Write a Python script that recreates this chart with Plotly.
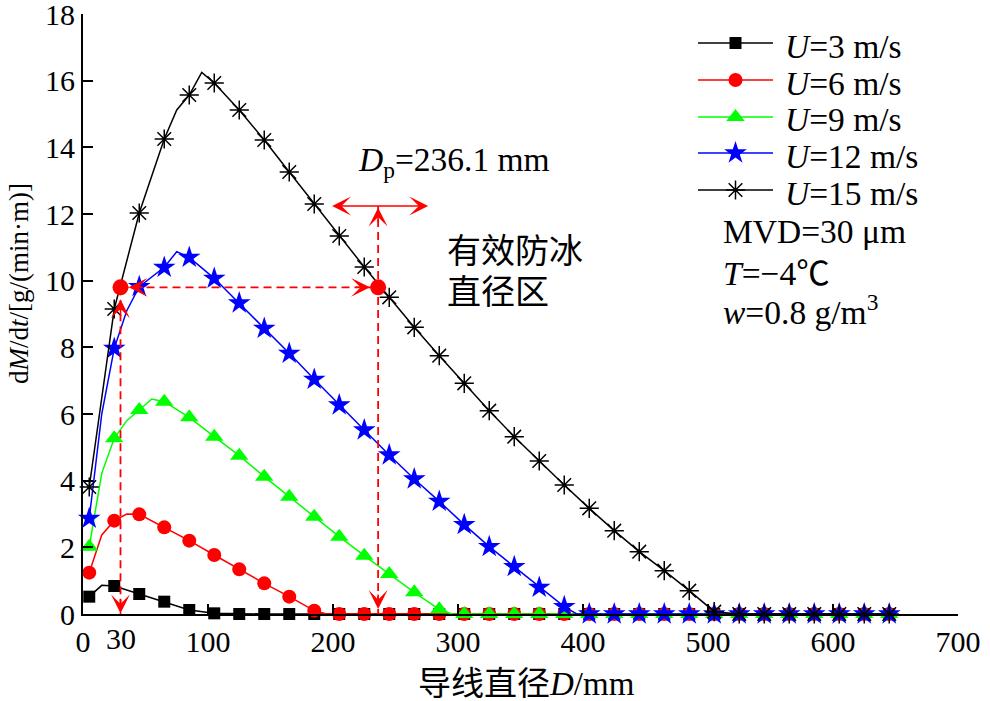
import plotly.graph_objects as go

# ---------------- data ----------------
x_marks = [5, 25, 45, 65, 85, 105, 125, 145, 165, 185, 205, 225, 245, 265, 285, 305, 325,
           345, 365, 385, 405, 425, 445, 465, 485, 505, 525, 545, 565, 585, 605, 625, 645]

u3 = [0.52, 0.84, 0.60, 0.37, 0.12, 0.02, 0, 0, 0, 0, 0, 0, 0, 0, 0, 0, 0,
      0, 0, 0, 0, 0, 0, 0, 0, 0, 0, 0, 0, 0, 0, 0, 0]
u6 = [1.24, 2.80, 2.99, 2.60, 2.20, 1.77, 1.34, 0.92, 0.52, 0.10, 0, 0, 0, 0, 0, 0, 0,
      0, 0, 0, 0, 0, 0, 0, 0, 0, 0, 0, 0, 0, 0, 0, 0]
u9 = [2.02, 5.27, 6.12, 6.37, 5.90, 5.32, 4.75, 4.12, 3.52, 2.92, 2.32, 1.75, 1.20, 0.65, 0.14, 0, 0,
      0, 0, 0, 0, 0, 0, 0, 0, 0, 0, 0, 0, 0, 0, 0, 0]
u12 = [2.87, 7.97, 9.82, 10.40, 10.70, 10.07, 9.33, 8.57, 7.82, 7.04, 6.27, 5.52, 4.77, 4.05, 3.38, 2.68, 2.02,
       1.42, 0.80, 0.22, 0, 0, 0, 0, 0, 0, 0, 0, 0, 0, 0, 0, 0]
u15 = [3.81, 9.15, 12.03, 14.25, 15.57, 15.93, 15.12, 14.22, 13.26, 12.30, 11.34, 10.41, 9.50, 8.60, 7.75, 6.92, 6.10,
       5.32, 4.59, 3.87, 3.17, 2.50, 1.87, 1.30, 0.70, 0.07, 0, 0, 0, 0, 0, 0, 0]

# extra line vertices (between markers)
u3_kx, u3_ky = [15], [0.86]
u6_kx, u6_ky = [15, 35, 195], [2.37, 3.00, 0.0]
u9_kx, u9_ky = [15, 35, 55, 295], [4.22, 5.80, 6.45, 0.0]
u12_kx, u12_ky = [15, 35, 75, 395], [6.0, 9.1, 10.87, 0.0]
u15_kx, u15_ky = [75, 95], [15.12, 16.25]

series_names = ["<i>U</i>=3 m/s", "<i>U</i>=6 m/s", "<i>U</i>=9 m/s", "<i>U</i>=12 m/s", "<i>U</i>=15 m/s"]

dp_value = 236.1        # effective diameter Dp
d_min = 30              # lower diameter
level = 9.8             # dM/dt level used for the construction
dp_arrow_y = 12.24
dp_arrow_half = 38

x_ticks = [0, 100, 200, 300, 400, 500, 600, 700]
y_ticks = [0, 2, 4, 6, 8, 10, 12, 14, 16, 18]

# ---------------- styles ----------------
FONT = "'Liberation Serif', 'Times New Roman', 'Noto Sans CJK SC', serif"
RED, GREEN, BLUE, BLACK = "#FF0000", "#00FF00", "#0000FF", "#000000"
styles = [
    dict(color=BLACK, symbol="square", size=12, lw=0),
    dict(color=RED, symbol="circle", size=14, lw=0),
    dict(color=GREEN, symbol="triangle-up", size=16, lw=0),
    dict(color=BLUE, symbol="star", size=17, lw=0),
    dict(color=BLACK, symbol="asterisk-open", size=16, lw=1.5),
]
all_y = [u3, u6, u9, u12, u15]
all_k = [(u3_kx, u3_ky), (u6_kx, u6_ky), (u9_kx, u9_ky), (u12_kx, u12_ky), (u15_kx, u15_ky)]

# plot area in pixels (for placing layout text)
L, R, T, B = 83, 958, 14, 614


def px(xp):
    return (xp - L) / (R - L)


def py(yp):
    return (B - yp) / (B - T)


fig = go.Figure()


def marker_dict(st):
    if st["symbol"] == "asterisk-open":
        return dict(symbol=st["symbol"], size=st["size"], color=st["color"],
                    line=dict(color=st["color"], width=st["lw"]))
    return dict(symbol=st["symbol"], size=st["size"], color=st["color"], line=dict(width=0))


for ys, (kx, ky), st in zip(all_y, all_k, styles):
    pts = sorted(zip(x_marks + kx, ys + ky))
    fig.add_trace(go.Scatter(x=[p[0] for p in pts], y=[p[1] for p in pts], mode="lines",
                             line=dict(color=st["color"], width=1.5), showlegend=False,
                             hoverinfo="skip", cliponaxis=False))
    fig.add_trace(go.Scatter(x=x_marks, y=ys, mode="markers", marker=marker_dict(st),
                             showlegend=False, cliponaxis=False))

# ---------------- construction (red dashed) ----------------
DASH = "8px,5px"
fig.add_shape(type="line", x0=d_min, x1=dp_value, y0=level, y1=level, xref="x", yref="y",
              line=dict(color=RED, width=1.8, dash=DASH))
fig.add_shape(type="line", x0=d_min, x1=d_min, y0=level, y1=0, xref="x", yref="y",
              line=dict(color=RED, width=1.8, dash=DASH))
fig.add_shape(type="line", x0=dp_value, x1=dp_value, y0=dp_arrow_y, y1=0, xref="x", yref="y",
              line=dict(color=RED, width=1.8, dash=DASH))

AH = dict(showarrow=True, arrowhead=3, arrowsize=2.1, arrowwidth=1.5, arrowcolor=RED,
          standoff=0, text="", xref="x", yref="y")
# horizontal dashed line arrow heads
fig.add_annotation(x=d_min + 6.5, y=level, ax=16, ay=0, **AH)
fig.add_annotation(x=dp_value - 6.5, y=level, ax=-16, ay=0, **AH)
# vertical at 30
fig.add_annotation(x=d_min, y=level - 0.36, ax=0, ay=16, **AH)
fig.add_annotation(x=d_min, y=0.02, ax=0, ay=-16, **AH)
# vertical at Dp
fig.add_annotation(x=dp_value, y=dp_arrow_y - 0.05, ax=0, ay=16, **AH)
fig.add_annotation(x=dp_value, y=0.15, ax=0, ay=-16, **AH)
# double arrow
fig.add_annotation(x=dp_value + dp_arrow_half + 2, y=dp_arrow_y, ax=dp_value - dp_arrow_half,
                   ay=dp_arrow_y, axref="x", ayref="y", arrowside="end+start",
                   showarrow=True, arrowhead=3, arrowsize=2.1, arrowwidth=1.5, arrowcolor=RED,
                   standoff=0, startstandoff=0, text="", xref="x", yref="y")

fig.add_trace(go.Scatter(x=[d_min, dp_value], y=[level, level], mode="markers",
                         marker=dict(symbol="circle", size=16, color=RED), showlegend=False,
                         cliponaxis=False))

# ---------------- manual legend (pixel overlay axes) ----------------
leg_line_y = [43, 80, 117, 153, 190]
for name, st, ly in zip(series_names, styles, leg_line_y):
    fig.add_trace(go.Scatter(x=[698, 773], y=[ly, ly], mode="lines", xaxis="x2", yaxis="y2",
                             line=dict(color=st["color"], width=1.5), showlegend=False,
                             hoverinfo="skip"))
    fig.add_trace(go.Scatter(x=[735.5], y=[ly], mode="markers", xaxis="x2", yaxis="y2",
                             marker=marker_dict(st), showlegend=False, hoverinfo="skip"))
    fig.add_annotation(x=px(783), y=py(ly + 3), xref="paper", yref="paper", text=name, showarrow=False,
                       xanchor="left", yanchor="middle", font=dict(family=FONT, size=33.5, color=BLACK))

TXT = dict(xref="paper", yref="paper", showarrow=False, font=dict(family=FONT, size=33.5, color=BLACK))
CJK = dict(xref="paper", yref="paper", showarrow=False, font=dict(family=FONT, size=34, color=BLACK))
fig.add_annotation(x=px(721), y=py(232), text="MVD=30 μm", xanchor="left", yanchor="middle", **TXT)
fig.add_annotation(x=px(721), y=py(273), text="<i>T</i>=−4℃", xanchor="left", yanchor="middle", **TXT)
fig.add_annotation(x=px(721), y=py(310), text="<i>w</i>=0.8 g/m<sup>3</sup>", xanchor="left",
                   yanchor="middle", **TXT)
fig.add_annotation(x=px(356), y=py(162), text="<i>D</i><sub>p</sub>=236.1 mm", xanchor="left",
                   yanchor="middle", **TXT)
fig.add_annotation(x=px(445), y=py(251), text="有效防冰", xanchor="left", yanchor="middle", **CJK)
fig.add_annotation(x=px(445), y=py(292), text="直径区", xanchor="left", yanchor="middle", **CJK)
# axis titles
fig.add_annotation(x=px(526), y=py(684), text="导线直径<i>D</i>/mm", xanchor="center", yanchor="middle",
                   xref="paper", yref="paper", showarrow=False,
                   font=dict(family=FONT, size=33, color=BLACK))
fig.add_annotation(x=px(19), y=py(284), text="d<i>M</i>/d<i>t</i>/[g/(min·m)]", textangle=-90,
                   xanchor="center", yanchor="middle", xref="paper", yref="paper", showarrow=False,
                   font=dict(family=FONT, size=27, color=BLACK))
# "30" label under the axis
fig.add_annotation(x=d_min, y=0, xref="x", yref="y", yshift=-24, text=str(d_min), showarrow=False,
                   xanchor="center", yanchor="middle", font=dict(family=FONT, size=30, color=BLACK))

# ---------------- layout ----------------
AX = dict(showgrid=False, zeroline=False, showline=True, linecolor=BLACK, linewidth=2,
          ticks="inside", ticklen=10, tickwidth=2, tickcolor=BLACK, ticklabeloverflow="allow",
          automargin=False, tickfont=dict(family=FONT, size=30, color=BLACK))
fig.update_layout(
    width=990, height=701,
    margin=dict(l=L, r=990 - R, t=T, b=701 - B, autoexpand=False),
    plot_bgcolor="white", paper_bgcolor="white",
    showlegend=False,
    font=dict(family=FONT, size=30, color=BLACK),
    xaxis=dict(range=[0, 700], tickvals=x_ticks, ticktext=[str(v) for v in x_ticks], **AX),
    yaxis=dict(range=[0, 18], tickvals=y_ticks, ticktext=[str(v) for v in y_ticks], **AX),
    xaxis2=dict(range=[L, R], overlaying="x", anchor="y2", visible=False, fixedrange=True),
    yaxis2=dict(range=[B, T], overlaying="y", anchor="x2", visible=False, fixedrange=True),
)

fig.write_html("out.html")
